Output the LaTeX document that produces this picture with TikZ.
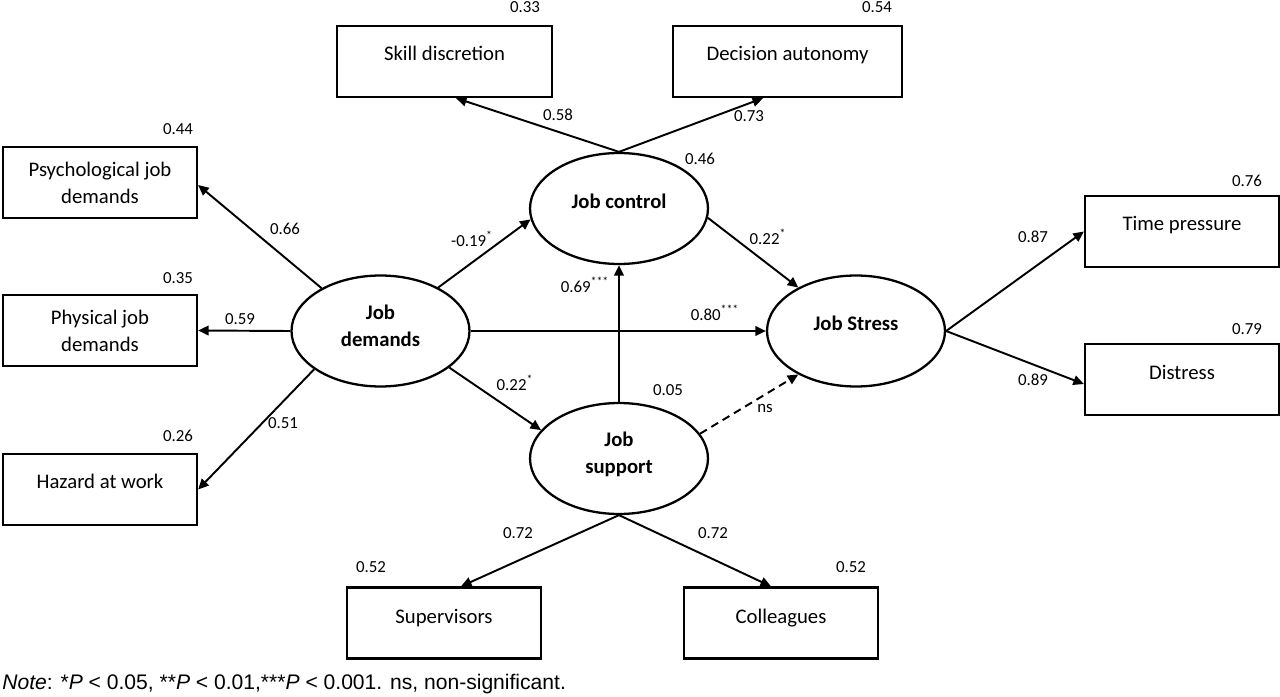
\documentclass[tikz,border=0pt]{standalone}
\usepackage{fontspec}
\setmainfont{Carlito}
\newfontfamily\notefont{Liberation Sans}
\usetikzlibrary{arrows.meta,shapes.geometric,calc}
\begin{document}
\begin{tikzpicture}[x=0.02cm,y=-0.02cm,
  box/.style={draw,line width=1.3pt,inner sep=0pt,minimum width=3.88cm,minimum height=1.42cm},
  lat/.style={draw,ellipse,line width=1.3pt,inner sep=0pt,minimum width=3.56cm,minimum height=2.22cm},
  btxt/.style={font=\fontsize{11.8}{15.3}\selectfont,inner sep=0pt,anchor=base},
  mtxt/.style={font=\fontsize{11.8}{15.3}\selectfont,inner sep=0pt,align=center},
  ltxt/.style={font=\fontsize{11.8}{15.3}\selectfont\bfseries,inner sep=0pt,anchor=base},
  lmtxt/.style={font=\fontsize{11.8}{15.3}\selectfont\bfseries,inner sep=0pt,align=center},
  num/.style={font=\fontsize{9.6}{11}\selectfont,inner sep=0pt},
  arr/.style={line width=1.1pt,-{Triangle[length=6pt,width=5.5pt]}},
  nsline/.style={dash pattern=on 4.5pt off 3pt},
]
\useasboundingbox (0,0) rectangle (1280,696);

% observed boxes
\node[box,minimum width=4.3cm] (sd) at (444.5,61.5) {};
\node[box,minimum width=4.58cm] (da) at (787.5,61.5) {};
\node[box] (pj) at (100,182.5) {};
\node[box] (ph) at (100,330.5) {};
\node[box] (hz) at (100,489.5) {};
\node[box] (tp) at (1182,231.5) {};
\node[box] (ds) at (1182,379.5) {};
\node[box] (su) at (444,623) {};
\node[box] (co) at (781,623) {};

\node[btxt] (sdt) at (444.5,61) {Skill discretion};
\node[btxt] (dat) at (787.5,61) {Decision autonomy};
\node[mtxt] (pjt) at (100,182.5) {Psychological job\\demands};
\node[mtxt] (pht) at (100,330.5) {Physical job\\demands};
\node[btxt] (hzt) at (100,488) {Hazard at work};
\node[btxt] (tpt) at (1182,230) {Time pressure};
\node[btxt] (dst) at (1182,379) {Distress};
\node[btxt] (sut) at (444,623) {Supervisors};
\node[btxt] (cot) at (781,623) {Colleagues};

% latent ellipses
\node[lat] (jd) at (380.5,331) {};
\node[lat] (jc) at (619,208.5) {};
\node[lat] (jsp) at (619,458.5) {};
\node[lat] (st) at (856,331) {};

\node[lmtxt] (jdt) at (380.5,325.5) {Job\\demands};
\node[ltxt] (jct) at (619,208) {Job control};
\node[lmtxt] (jspt) at (619,454) {Job\\support};
\node[ltxt] (stt) at (856,330) {Job Stress};

% residual / R2 values
\node[num] (r1) at (525,7) {0.33};
\node[num] (r2) at (877,7) {0.54};
\node[num] (r3) at (178,129) {0.44};
\node[num] (r4) at (178,278) {0.35};
\node[num] (r5) at (178,436) {0.26};
\node[num] (r6) at (1247,181) {0.76};
\node[num] (r7) at (1247,329) {0.79};
\node[num] (r8) at (371,567) {0.52};
\node[num] (r9) at (851,567) {0.52};
\node[num] (r10) at (700,159) {0.46};
\node[num] (r11) at (668,390) {0.05};

% connectors
\draw[arr] (jc.north) -- ($(sd.south)+(11.5,0)$);
\draw[arr] (jc.north) -- ($(da.south)+(-24.5,0)$);
\draw[arr] (jd.144) -- ($(pj.east)+(0,2.5)$);
\draw[arr] (jd.west) -- (ph.east);
\draw[arr] (jd.210) -- (hz.east);
\draw[arr] (jd.37) -- (jc.187);
\draw[arr] (jd.east) -- (st.west);
\draw[arr] (jd.332) -- (jsp.160);
\draw[arr] (jsp.north) -- (jc.south);
\draw[arr] (jc.354) -- (st.143);
\draw[arr,nsline] (jsp.17) -- (st.217);
\draw[arr] (st.east) -- (tp.west);
\draw[arr] (st.east) -- ($(ds.west)+(0,4.5)$);
\draw[arr] (jsp.south) -- ($(su.north)+(17,0)$);
\draw[arr] (jsp.south) -- ($(co.north)+(-10,0)$);

% path coefficients
\node[num] (p1) at (558,115) {0.58};
\node[num] (p2) at (749,116) {0.73};
\node[num] (p3) at (285,229) {0.66};
\node[num] (p4) at (240,319) {0.59};
\node[num] (p5) at (283,423) {0.51};
\node[num] (p6) at (472,239) {-0.19\textsuperscript{*}};
\node[num] (p7) at (585,285) {0.69\textsuperscript{***}};
\node[num] (p8) at (715,313) {0.80\textsuperscript{***}};
\node[num] (p9) at (515,383) {0.22\textsuperscript{*}};
\node[num] (p10) at (768,237) {0.22\textsuperscript{*}};
\node[num] (p11) at (1033,237) {0.87};
\node[num] (p12) at (1033,380) {0.89};
\node[num] (p13) at (765,408) {ns};
\node[num] (p14) at (518,533) {0.72};
\node[num] (p15) at (713,533) {0.72};

% note
\node[anchor=base west,inner sep=0pt,font=\notefont\fontsize{12}{14}\selectfont] (note) at (2,689)
  {\textit{Note}: *\textit{P} < 0.05, **\textit{P} < 0.01,***\textit{P} < 0.001. ns, non-significant.};
\end{tikzpicture}
\end{document}
